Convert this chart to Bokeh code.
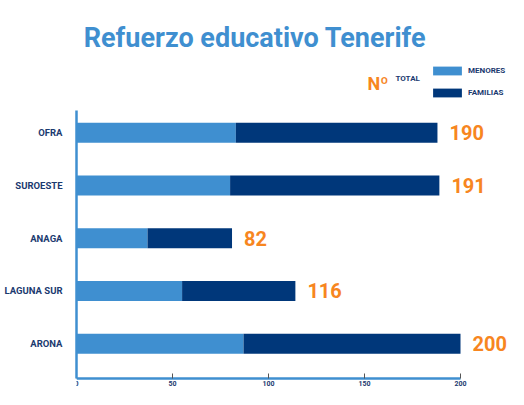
from bokeh.plotting import figure
from bokeh.models import ColumnDataSource, Range1d, FixedTicker, Label, Legend, LegendItem
from bokeh.core.properties import value
from bokeh.embed import file_html
from bokeh.resources import INLINE

# ---- data ----
categories = ["OFRA", "SUROESTE", "ANAGA", "LAGUNA SUR", "ARONA"]
menores = [83, 80, 37, 55, 87]
familias = [105, 109, 44, 59, 113]
totales = [190, 191, 82, 116, 200]
x_ticks = [0, 50, 100, 150, 200]
title_text = "Refuerzo educativo Tenerife"
legend_labels = ["MENORES", "FAMILIAS"]

# ---- style ----
LIGHT = "#3f8fd0"
DARK = "#00377a"
ORANGE = "#f7861f"
NAVY = "#1b3a6f"
FONT = "Roboto"

W, H = 508, 389
LEFT = 76
n = len(categories)
ypos = [n - 1 - i for i in range(n)]
ends = [m + f for m, f in zip(menores, familias)]
src = ColumnDataSource(dict(y=ypos, cat=categories, menores=menores, ends=ends,
                            lbl=[str(t) for t in totales]))

y_lo, y_hi = -0.66, n - 1 + 0.42
ppu = 52.75                          # pixels per category step
y_bot = y_lo - 11 / ppu              # room below the x axis for its tick labels
y_top = y_bot + H / ppu
x_end = (W - LEFT) / 1.92

p = figure(width=W, height=H, output_backend="svg", toolbar_location=None,
           x_range=Range1d(0, x_end), y_range=Range1d(y_bot, y_top),
           min_border_left=LEFT, min_border_right=0, min_border_top=0, min_border_bottom=0)

r1 = p.hbar(y="y", left=0, right="menores", height=0.38, source=src,
            fill_color=LIGHT, line_color=None)
r2 = p.hbar(y="y", left="menores", right="ends", height=0.38, source=src,
            fill_color=DARK, line_color=None)
p.text(x="ends", y="y", text="lbl", source=src, x_offset=12,
       text_baseline="middle", text_align="left", text_color=ORANGE,
       text_font=value(FONT), text_font_size="20px", text_font_style="bold")

p.xgrid.visible = False
p.ygrid.visible = False
p.outline_line_color = None
p.background_fill_color = "white"
p.border_fill_color = "white"

xa = p.xaxis[0]
xa.fixed_location = y_lo
xa.ticker = FixedTicker(ticks=x_ticks)
xa.bounds = (0, 200)
xa.axis_line_color = LIGHT
xa.axis_line_width = 2.5
xa.major_tick_in = 5
xa.major_tick_out = 0
xa.major_tick_line_color = "#555555"
xa.minor_tick_line_color = None
xa.major_label_text_font = FONT
xa.major_label_text_font_size = "7px"
xa.major_label_text_font_style = "bold"
xa.major_label_text_color = NAVY
xa.major_label_standoff = 2

ya = p.yaxis[0]
ya.ticker = FixedTicker(ticks=ypos)
ya.bounds = (y_lo, y_hi)
ya.major_label_overrides = {y: c for y, c in zip(ypos, categories)}
ya.axis_line_color = LIGHT
ya.axis_line_width = 2.5
ya.major_tick_line_color = None
ya.minor_tick_line_color = None
ya.major_label_standoff = 8
ya.major_label_text_font = FONT
ya.major_label_text_font_size = "9.5px"
ya.major_label_text_font_style = "bold"
ya.major_label_text_color = NAVY

legend = Legend(items=[LegendItem(label=legend_labels[0], renderers=[r1]),
                       LegendItem(label=legend_labels[1], renderers=[r2])],
                location=(353, 291), orientation="vertical",
                glyph_width=36, glyph_height=11, label_height=11, spacing=11,
                padding=0, margin=0, border_line_color=None, background_fill_alpha=0,
                label_standoff=3, label_text_font=FONT, label_text_font_size="8px",
                label_text_font_style="bold", label_text_color=NAVY)
p.add_layout(legend)

p.add_layout(Label(x=178.5, y=352, x_units="screen", y_units="screen", text=title_text,
                   text_font=FONT, text_font_size="27px", text_font_style="bold",
                   text_color=LIGHT, text_baseline="alphabetic", text_align="center"))
p.add_layout(Label(x=291, y=306, x_units="screen", y_units="screen", text="Nº",
                   text_font=FONT, text_font_size="18px", text_font_style="bold",
                   text_color=ORANGE, text_baseline="alphabetic"))
p.add_layout(Label(x=319, y=311, x_units="screen", y_units="screen", text="TOTAL",
                   text_font=FONT, text_font_size="8px", text_font_style="bold",
                   text_color=NAVY, text_baseline="middle"))

open("out.html", "w").write(file_html(p, INLINE))
